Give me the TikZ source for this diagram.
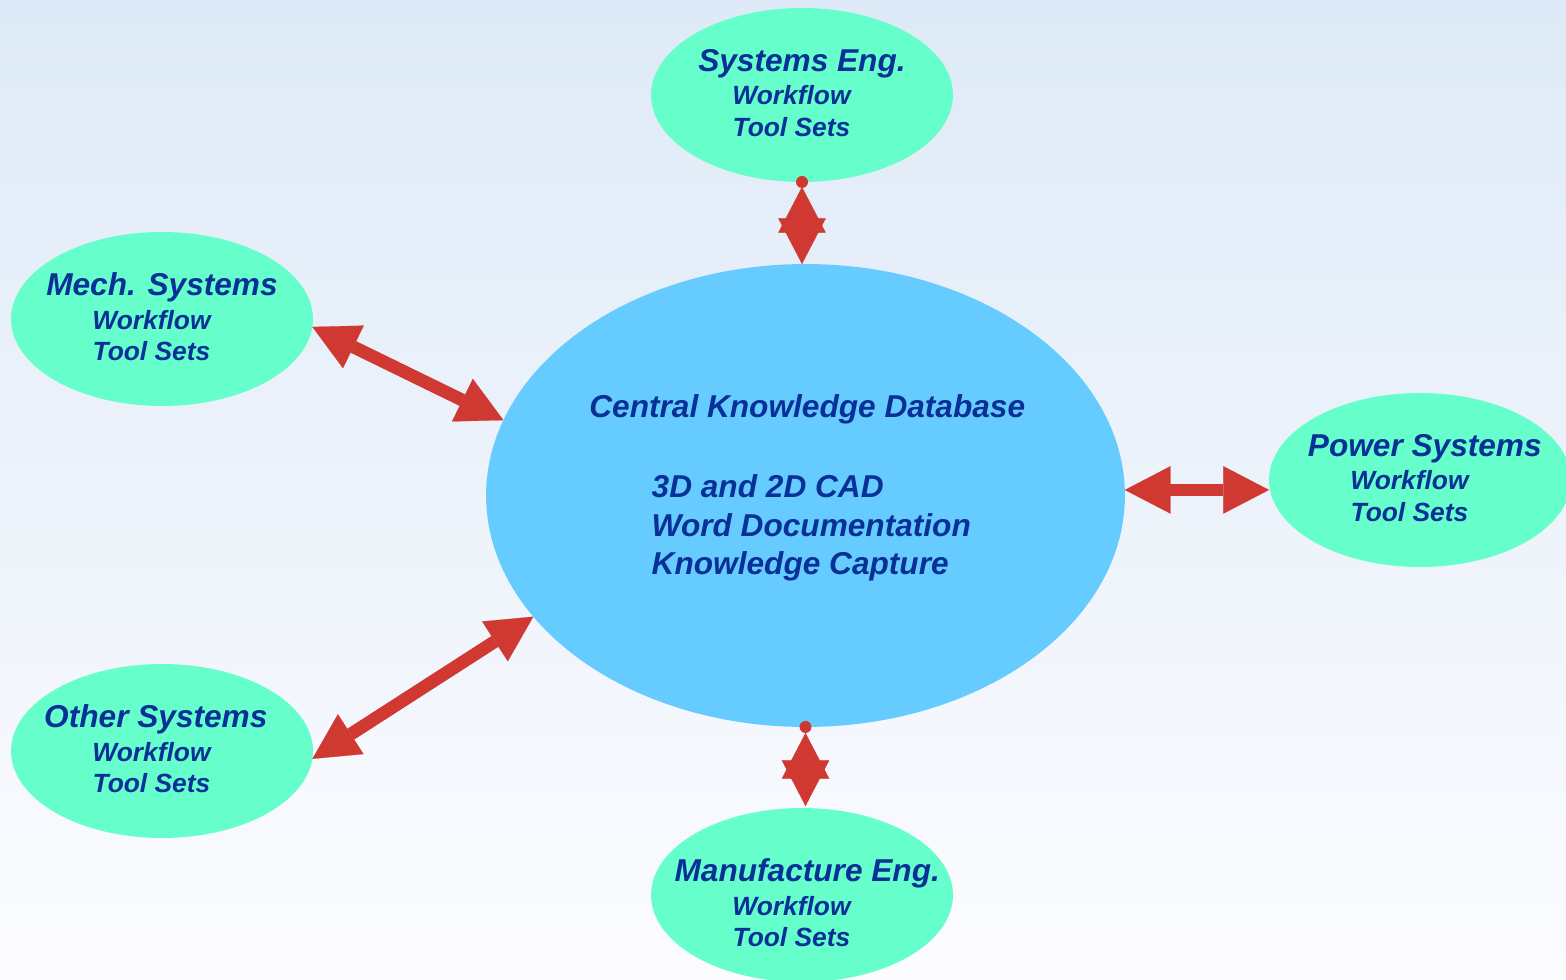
\documentclass[tikz,border=0pt]{standalone}
\usepackage{fontspec}
\setmainfont{Liberation Sans}
\usetikzlibrary{arrows.meta,shapes.geometric}

\definecolor{teamgreen}{RGB}{102,255,204}
\definecolor{hubblue}{RGB}{102,204,255}
\definecolor{linkred}{RGB}{208,56,50}
\definecolor{textblue}{RGB}{8,48,150}
\definecolor{skytop}{RGB}{222,234,247}
\definecolor{skybot}{RGB}{252,252,255}

\newcommand{\teamlines}[2][0pt]{\hspace*{#1}{\fontsize{18pt}{20pt}\selectfont #2}\\[1.3pt]
  \hspace*{-12pt}Workflow\\ \hspace*{-12pt}Tool Sets}

\begin{document}
\begin{tikzpicture}[x=0.02cm, y=-0.02cm,
    team/.style = {ellipse, fill=teamgreen, minimum width=6.04cm, minimum height=3.48cm, inner sep=0pt, outer sep=0pt},
    hub/.style = {ellipse, fill=hubblue, minimum width=12.78cm, minimum height=9.26cm, inner sep=0pt, outer sep=0pt},
    teamtext/.style = {text=textblue, align=center, inner sep=0pt, yshift=1.2pt, font=\bfseries\itshape\fontsize{15pt}{18pt}\selectfont},
    hubtext/.style = {text=textblue, align=center, inner sep=0pt, font=\bfseries\itshape\fontsize{18pt}{22pt}\selectfont},
    link/.style = {linkred, line width=7.3pt,
      {Triangle[length=26pt, width=27pt, line width=0.1pt]}-{Triangle[length=26pt, width=27pt, line width=0.1pt]}}]
  \useasboundingbox (0,0) rectangle (1566,980);
  \fill[top color=skytop, bottom color=skybot] (0,0) rectangle (1566,980);

  % Central database
  \node[hub] (cent) at (805.5,495.5) {};
  \node[hubtext, yshift=3pt, xshift=1pt] (centtxt) at (cent) {Central Knowledge Database\\[23.8pt]
    \hspace*{4.6pt}\begin{tabular}[t]{@{}l@{}}3D and 2D CAD\\ Word Documentation\\ Knowledge Capture\end{tabular}};

  % Engineering groups
  \node[team] (sys) at (802,95) {};
  \node[team] (mech) at (162,319) {};
  \node[team] (pow) at (1420,480) {};
  \node[team] (oth) at (162,751) {};
  \node[team] (mfg) at (802,895) {};

  \node[teamtext] (systxt) at (sys) {\teamlines{Systems Eng.}};
  \node[teamtext] (mechtxt) at (mech) {\teamlines{Mech. Systems}};
  \node[teamtext] (powtxt) at (pow) {\teamlines[5.5pt]{Power Systems}};
  \node[teamtext] (othtxt) at (oth) {\teamlines[-7pt]{Other Systems}};
  \node[teamtext, yshift=-5.6pt] (mfgtxt) at (mfg) {\teamlines[6pt]{Manufacture Eng.}};

  % Links to the database
  \path[link]
        (mech.-3.4) edge (cent.166.7)
        (oth.-3.1) edge (cent.204.2)
        (cent.1.2) edge (cent.1.2 -| pow.west)
        (sys.south) edge[shorten <=0.1cm] (sys.south |- cent.north)
        (cent.south) edge[shorten <=0.12cm, shorten >=0.04cm] (cent.south |- mfg.north);
  \fill[linkred] (sys.south) circle (0.12cm);
  \fill[linkred] (cent.south) circle (0.12cm);

\end{tikzpicture}
\end{document}
